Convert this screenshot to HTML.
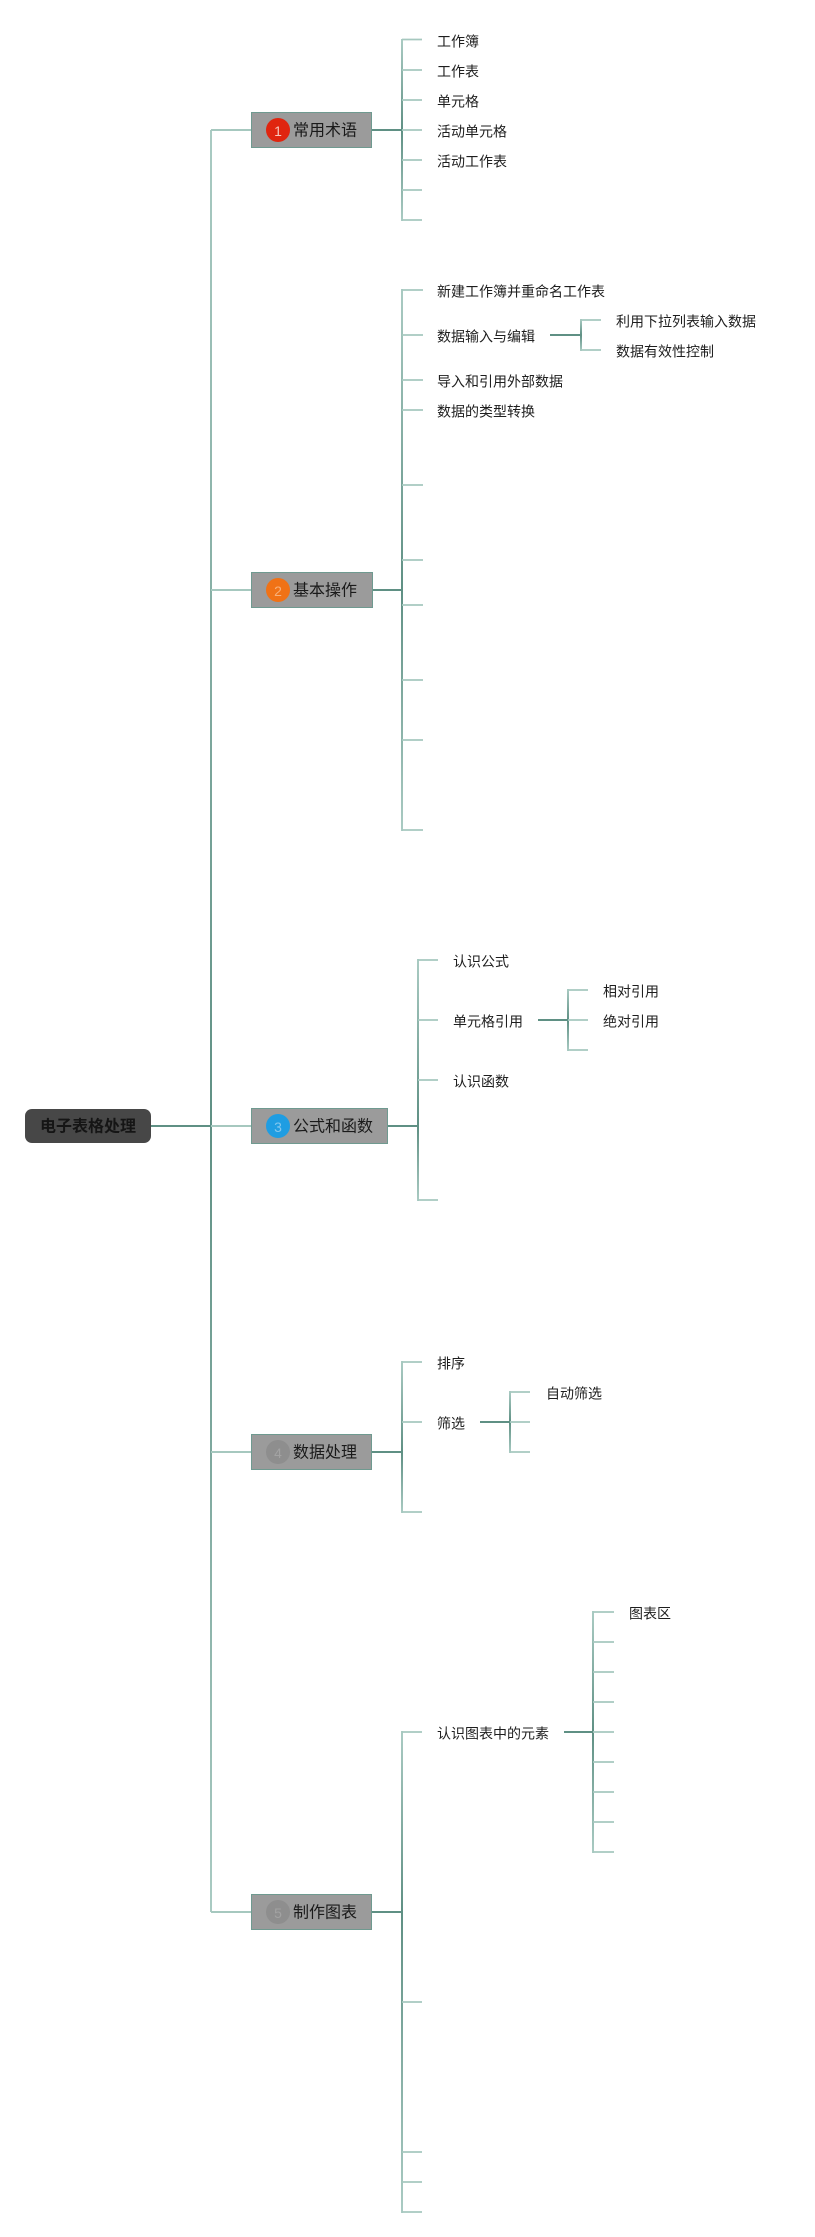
<!DOCTYPE html>
<html>
<head>
<meta charset="utf-8">
<style>
  html,body{margin:0;padding:0;background:#ffffff;}
  body{width:815px;height:2237px;overflow:hidden;}
  svg{display:block;}
  text{font-family:"Liberation Sans","Noto Sans CJK SC","WenQuanYi Zen Hei",sans-serif;}
  .t14{font-size:14px;fill:#1e1e1e;}
  .t16{font-size:16px;fill:#1a1a1a;}
  .num{font-size:14px;}
</style>
</head>
<body>
<svg width="815" height="2237" viewBox="0 0 815 2237" xmlns="http://www.w3.org/2000/svg">
  <defs>
    <linearGradient id="gu" x1="0" y1="0" x2="0" y2="1">
      <stop offset="0" stop-color="#aacbc3"/>
      <stop offset="1" stop-color="#5f9084"/>
    </linearGradient>
    <linearGradient id="gd" x1="0" y1="0" x2="0" y2="1">
      <stop offset="0" stop-color="#5f9084"/>
      <stop offset="1" stop-color="#aacbc3"/>
    </linearGradient>
  </defs>

  <!-- Root -->
  <line x1="151" y1="1126" x2="211" y2="1126" stroke="#5f9084" stroke-width="2"/>
  <rect x="25" y="1109" width="126" height="34" rx="7" ry="7" fill="#474747"/>
  <text x="88" y="1127" text-anchor="middle" dominant-baseline="central" style="font-size:16px;font-weight:bold;fill:#151515;">电子表格处理</text>

  <!-- Main vertical -->
  <rect x="210" y="130" width="2" height="996" fill="url(#gu)"/>
  <rect x="210" y="1126" width="2" height="786" fill="url(#gd)"/>

  <!-- Level-1 connectors from main vertical -->
  <g stroke="#a6c8bf" stroke-width="2">
    <line x1="211" y1="130" x2="251" y2="130"/>
    <line x1="211" y1="590" x2="251" y2="590"/>
    <line x1="211" y1="1126" x2="251" y2="1126"/>
    <line x1="211" y1="1452" x2="251" y2="1452"/>
    <line x1="211" y1="1912" x2="251" y2="1912"/>
  </g>

  <!-- Node -> bracket connectors -->
  <g stroke="#5f9084" stroke-width="2">
    <line x1="372" y1="130" x2="402" y2="130"/>
    <line x1="373" y1="590" x2="402" y2="590"/>
    <line x1="388" y1="1126" x2="418" y2="1126"/>
    <line x1="372" y1="1452" x2="402" y2="1452"/>
    <line x1="372" y1="1912" x2="402" y2="1912"/>
    <!-- sub connectors -->
    <line x1="550" y1="335" x2="581" y2="335"/>
    <line x1="538" y1="1020" x2="568" y2="1020"/>
    <line x1="480" y1="1422" x2="510" y2="1422"/>
    <line x1="564" y1="1732" x2="593" y2="1732"/>
  </g>

  <!-- Bracket verticals -->
  <!-- 1 -->
  <rect x="401" y="39" width="2" height="91" fill="url(#gu)"/>
  <rect x="401" y="130" width="2" height="91" fill="url(#gd)"/>
  <!-- 2 -->
  <rect x="401" y="289" width="2" height="301" fill="url(#gu)"/>
  <rect x="401" y="590" width="2" height="241" fill="url(#gd)"/>
  <!-- 3 -->
  <rect x="417" y="959" width="2" height="167" fill="url(#gu)"/>
  <rect x="417" y="1126" width="2" height="75" fill="url(#gd)"/>
  <!-- 4 -->
  <rect x="401" y="1361" width="2" height="91" fill="url(#gu)"/>
  <rect x="401" y="1452" width="2" height="61" fill="url(#gd)"/>
  <!-- 5 -->
  <rect x="401" y="1731" width="2" height="181" fill="url(#gu)"/>
  <rect x="401" y="1912" width="2" height="301" fill="url(#gd)"/>
  <!-- 2a -->
  <rect x="580" y="319" width="2" height="16" fill="url(#gu)"/>
  <rect x="580" y="335" width="2" height="16" fill="url(#gd)"/>
  <!-- 3a -->
  <rect x="567" y="989" width="2" height="31" fill="url(#gu)"/>
  <rect x="567" y="1020" width="2" height="31" fill="url(#gd)"/>
  <!-- 4a -->
  <rect x="509" y="1391" width="2" height="31" fill="url(#gu)"/>
  <rect x="509" y="1422" width="2" height="31" fill="url(#gd)"/>
  <!-- 5a -->
  <rect x="592" y="1611" width="2" height="121" fill="url(#gu)"/>
  <rect x="592" y="1732" width="2" height="121" fill="url(#gd)"/>

  <!-- Ticks -->
  <g stroke="#a6c8bf" stroke-width="1.8">
    <!-- 1 -->
    <line x1="402" y1="39.5" x2="422" y2="39.5"/>
    <line x1="402" y1="70" x2="422" y2="70"/>
    <line x1="402" y1="100" x2="422" y2="100"/>
    <line x1="402" y1="130" x2="422" y2="130"/>
    <line x1="402" y1="160" x2="422" y2="160"/>
    <line x1="402" y1="190" x2="422" y2="190"/>
    <line x1="402" y1="220" x2="422" y2="220"/>
    <!-- 2 -->
    <line x1="402" y1="290" x2="423" y2="290"/>
    <line x1="402" y1="335" x2="423" y2="335"/>
    <line x1="402" y1="380" x2="423" y2="380"/>
    <line x1="402" y1="410" x2="423" y2="410"/>
    <line x1="402" y1="485" x2="423" y2="485"/>
    <line x1="402" y1="560" x2="423" y2="560"/>
    <line x1="402" y1="605" x2="423" y2="605"/>
    <line x1="402" y1="680" x2="423" y2="680"/>
    <line x1="402" y1="740" x2="423" y2="740"/>
    <line x1="402" y1="830" x2="423" y2="830"/>
    <!-- 2a -->
    <line x1="581" y1="320" x2="601" y2="320"/>
    <line x1="581" y1="350" x2="601" y2="350"/>
    <!-- 3 -->
    <line x1="418" y1="960" x2="438" y2="960"/>
    <line x1="418" y1="1020" x2="438" y2="1020"/>
    <line x1="418" y1="1080" x2="438" y2="1080"/>
    <line x1="418" y1="1200" x2="438" y2="1200"/>
    <!-- 3a -->
    <line x1="568" y1="990" x2="588" y2="990"/>
    <line x1="568" y1="1020" x2="588" y2="1020"/>
    <line x1="568" y1="1050" x2="588" y2="1050"/>
    <!-- 4 -->
    <line x1="402" y1="1362" x2="422" y2="1362"/>
    <line x1="402" y1="1422" x2="422" y2="1422"/>
    <line x1="402" y1="1512" x2="422" y2="1512"/>
    <!-- 4a -->
    <line x1="510" y1="1392" x2="530" y2="1392"/>
    <line x1="510" y1="1422" x2="530" y2="1422"/>
    <line x1="510" y1="1452" x2="530" y2="1452"/>
    <!-- 5 -->
    <line x1="402" y1="1732" x2="422" y2="1732"/>
    <line x1="402" y1="2002" x2="422" y2="2002"/>
    <line x1="402" y1="2152" x2="422" y2="2152"/>
    <line x1="402" y1="2182" x2="422" y2="2182"/>
    <line x1="402" y1="2212" x2="422" y2="2212"/>
    <!-- 5a -->
    <line x1="593" y1="1612" x2="614" y2="1612"/>
    <line x1="593" y1="1642" x2="614" y2="1642"/>
    <line x1="593" y1="1672" x2="614" y2="1672"/>
    <line x1="593" y1="1702" x2="614" y2="1702"/>
    <line x1="593" y1="1732" x2="614" y2="1732"/>
    <line x1="593" y1="1762" x2="614" y2="1762"/>
    <line x1="593" y1="1792" x2="614" y2="1792"/>
    <line x1="593" y1="1822" x2="614" y2="1822"/>
    <line x1="593" y1="1852" x2="614" y2="1852"/>
  </g>

  <!-- Level-1 nodes -->
  <g stroke="#6f9a90" stroke-width="1" fill="#9b9b9b">
    <rect x="251.5" y="112.5" width="120" height="35"/>
    <rect x="251.5" y="572.5" width="121" height="35"/>
    <rect x="251.5" y="1108.5" width="136" height="35"/>
    <rect x="251.5" y="1434.5" width="120" height="35"/>
    <rect x="251.5" y="1894.5" width="120" height="35"/>
  </g>
  <!-- number circles -->
  <circle cx="278" cy="130" r="12" fill="#e0250f"/>
  <text x="278" y="131" text-anchor="middle" dominant-baseline="central" class="num" fill="#f7c7bd">1</text>
  <circle cx="278" cy="590" r="12" fill="#f07216"/>
  <text x="278" y="591" text-anchor="middle" dominant-baseline="central" class="num" fill="#f7b07a">2</text>
  <circle cx="278" cy="1126" r="12" fill="#1f9de2"/>
  <text x="278" y="1127" text-anchor="middle" dominant-baseline="central" class="num" fill="#84c7ee">3</text>
  <circle cx="278" cy="1452" r="12" fill="#8e8e8e"/>
  <text x="278" y="1453" text-anchor="middle" dominant-baseline="central" class="num" fill="#a3a3a3">4</text>
  <circle cx="278" cy="1912" r="12" fill="#8e8e8e"/>
  <text x="278" y="1913" text-anchor="middle" dominant-baseline="central" class="num" fill="#a3a3a3">5</text>

  <text x="293" y="131" dominant-baseline="central" class="t16">常用术语</text>
  <text x="293" y="591" dominant-baseline="central" class="t16">基本操作</text>
  <text x="293" y="1127" dominant-baseline="central" class="t16">公式和函数</text>
  <text x="293" y="1453" dominant-baseline="central" class="t16">数据处理</text>
  <text x="293" y="1913" dominant-baseline="central" class="t16">制作图表</text>

  <!-- Level-2+ labels -->
  <g class="t14" dominant-baseline="central">
    <text x="437" y="41.5" dominant-baseline="central" class="t14">工作簿</text>
    <text x="437" y="71.5" dominant-baseline="central" class="t14">工作表</text>
    <text x="437" y="101.5" dominant-baseline="central" class="t14">单元格</text>
    <text x="437" y="131.5" dominant-baseline="central" class="t14">活动单元格</text>
    <text x="437" y="161.5" dominant-baseline="central" class="t14">活动工作表</text>

    <text x="437" y="291.5" dominant-baseline="central" class="t14">新建工作簿并重命名工作表</text>
    <text x="437" y="336.5" dominant-baseline="central" class="t14">数据输入与编辑</text>
    <text x="437" y="381.5" dominant-baseline="central" class="t14">导入和引用外部数据</text>
    <text x="437" y="411.5" dominant-baseline="central" class="t14">数据的类型转换</text>
    <text x="616" y="321.5" dominant-baseline="central" class="t14">利用下拉列表输入数据</text>
    <text x="616" y="351.5" dominant-baseline="central" class="t14">数据有效性控制</text>

    <text x="453" y="961.5" dominant-baseline="central" class="t14">认识公式</text>
    <text x="453" y="1021.5" dominant-baseline="central" class="t14">单元格引用</text>
    <text x="453" y="1081.5" dominant-baseline="central" class="t14">认识函数</text>
    <text x="603" y="991.5" dominant-baseline="central" class="t14">相对引用</text>
    <text x="603" y="1021.5" dominant-baseline="central" class="t14">绝对引用</text>

    <text x="437" y="1363.5" dominant-baseline="central" class="t14">排序</text>
    <text x="437" y="1423.5" dominant-baseline="central" class="t14">筛选</text>
    <text x="546" y="1393.5" dominant-baseline="central" class="t14">自动筛选</text>

    <text x="437" y="1733.5" dominant-baseline="central" class="t14">认识图表中的元素</text>
    <text x="629" y="1613.5" dominant-baseline="central" class="t14">图表区</text>
  </g>
</svg>
</body>
</html>
